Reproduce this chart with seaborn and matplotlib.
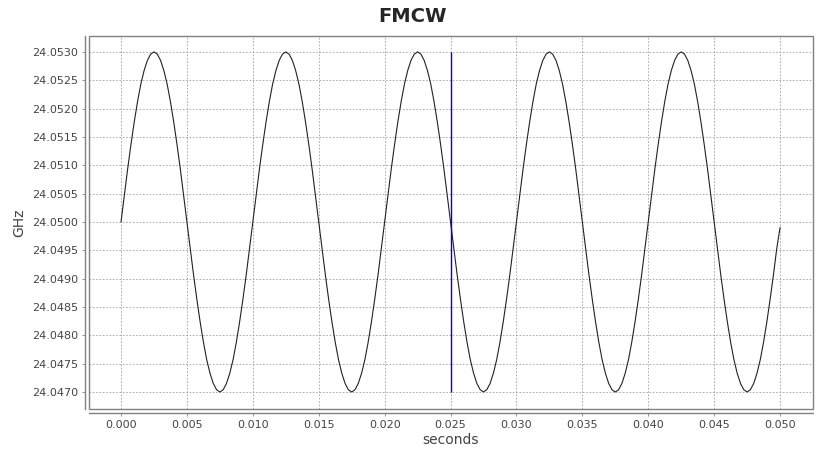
import numpy as np
import matplotlib
matplotlib.use('Agg')
import matplotlib.pyplot as plt
import seaborn as sns
from matplotlib.patches import Rectangle
from matplotlib.ticker import FormatStrFormatter, MultipleLocator

# sample times (s), one every 0.00025 s
seconds = np.linspace(0.0, 0.05, 201)

# frequency (GHz), 40 samples per 10 ms sweep
ghz = [
    24.05000, 24.05047, 24.05093, 24.05136, 24.05176, 24.05212, 24.05243, 24.05267, 24.05285, 24.05296,
    24.05300, 24.05296, 24.05285, 24.05267, 24.05243, 24.05212, 24.05176, 24.05136, 24.05093, 24.05047,
    24.05000, 24.04953, 24.04907, 24.04864, 24.04824, 24.04788, 24.04757, 24.04733, 24.04715, 24.04704,
    24.04700, 24.04704, 24.04715, 24.04733, 24.04757, 24.04788, 24.04824, 24.04864, 24.04907, 24.04953,
    24.05000, 24.05047, 24.05093, 24.05136, 24.05176, 24.05212, 24.05243, 24.05267, 24.05285, 24.05296,
    24.05300, 24.05296, 24.05285, 24.05267, 24.05243, 24.05212, 24.05176, 24.05136, 24.05093, 24.05047,
    24.05000, 24.04953, 24.04907, 24.04864, 24.04824, 24.04788, 24.04757, 24.04733, 24.04715, 24.04704,
    24.04700, 24.04704, 24.04715, 24.04733, 24.04757, 24.04788, 24.04824, 24.04864, 24.04907, 24.04953,
    24.05000, 24.05047, 24.05093, 24.05136, 24.05176, 24.05212, 24.05243, 24.05267, 24.05285, 24.05296,
    24.05300, 24.05296, 24.05285, 24.05267, 24.05243, 24.05212, 24.05176, 24.05136, 24.05093, 24.05047,
    24.05000, 24.04953, 24.04907, 24.04864, 24.04824, 24.04788, 24.04757, 24.04733, 24.04715, 24.04704,
    24.04700, 24.04704, 24.04715, 24.04733, 24.04757, 24.04788, 24.04824, 24.04864, 24.04907, 24.04953,
    24.05000, 24.05047, 24.05093, 24.05136, 24.05176, 24.05212, 24.05243, 24.05267, 24.05285, 24.05296,
    24.05300, 24.05296, 24.05285, 24.05267, 24.05243, 24.05212, 24.05176, 24.05136, 24.05093, 24.05047,
    24.05000, 24.04953, 24.04907, 24.04864, 24.04824, 24.04788, 24.04757, 24.04733, 24.04715, 24.04704,
    24.04700, 24.04704, 24.04715, 24.04733, 24.04757, 24.04788, 24.04824, 24.04864, 24.04907, 24.04953,
    24.05000, 24.05047, 24.05093, 24.05136, 24.05176, 24.05212, 24.05243, 24.05267, 24.05285, 24.05296,
    24.05300, 24.05296, 24.05285, 24.05267, 24.05243, 24.05212, 24.05176, 24.05136, 24.05093, 24.05047,
    24.05000, 24.04953, 24.04907, 24.04864, 24.04824, 24.04788, 24.04757, 24.04733, 24.04715, 24.04704,
    24.04700, 24.04704, 24.04715, 24.04733, 24.04757, 24.04788, 24.04824, 24.04864, 24.04907, 24.04953,
    24.04990,
]

# vertical marker
marker_x = 0.025
marker_range = [24.0470, 24.0530]

sns.set_style('white')
plt.rcParams['font.family'] = ['DejaVu Sans']

fig = plt.figure(figsize=(8.25, 4.59), dpi=100)
ax = fig.add_axes([89 / 825, 1 - 409 / 459, (813 - 89) / 825, (409 - 36) / 459])

sns.lineplot(x=seconds, y=ghz, ax=ax, color='#222222', linewidth=0.8)
ax.vlines(marker_x, marker_range[0], marker_range[1], color='#0000dd', linewidth=1.0)

ax.set_xlim(-0.00243, 0.0525)
ax.set_ylim(24.04670, 24.05328)
ax.xaxis.set_major_locator(MultipleLocator(0.005))
ax.yaxis.set_major_locator(MultipleLocator(0.0005))
ax.xaxis.set_major_formatter(FormatStrFormatter('%.3f'))
ax.yaxis.set_major_formatter(FormatStrFormatter('%.4f'))

ax.grid(True, color='#a0a0a0', linestyle=(0, (2, 2)), linewidth=0.6)
ax.set_axisbelow(True)

# plot outline + offset axis lines
ax.add_patch(Rectangle((0, 0), 1, 1, transform=ax.transAxes, fill=False,
                       edgecolor='#808080', linewidth=1.0, clip_on=False, zorder=5))
for side in ['top', 'right']:
    ax.spines[side].set_visible(False)
for side in ['left', 'bottom']:
    ax.spines[side].set_position(('outward', 3))
    ax.spines[side].set_color('#808080')
    ax.spines[side].set_linewidth(1.0)

ax.tick_params(axis='both', which='major', direction='out', length=2, width=0.6,
               color='#808080', labelcolor='#444444', labelsize=8, pad=3,
               bottom=True, left=True)

ax.set_xlabel('seconds', fontsize=10, color='#444444', labelpad=2)
ax.set_ylabel('GHz', fontsize=10, color='#444444', labelpad=4)
fig.suptitle('FMCW', fontsize=14, fontweight='bold', x=0.5, y=0.985, va='top')

plt.savefig('out.png', dpi=100)
plt.close()
